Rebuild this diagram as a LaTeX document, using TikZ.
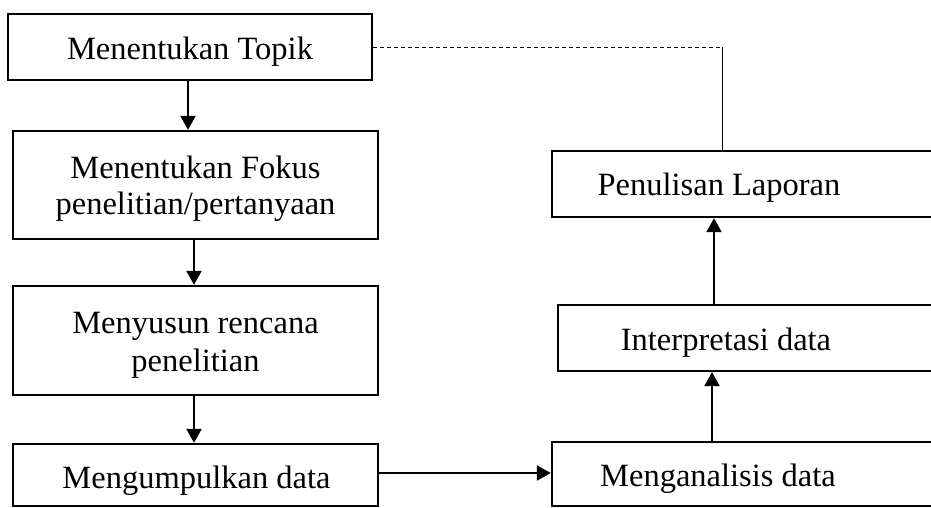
\documentclass[tikz,border=0pt]{standalone}
\usepackage{fontspec}
\setmainfont{Liberation Serif}
\usetikzlibrary{arrows.meta}
\begin{document}
\begin{tikzpicture}[x=1pt,y=-1pt,
  box/.style={draw=black,line width=2.4pt,rectangle,inner sep=0pt},
  txt/.style={anchor=base,inner sep=0pt,font=\fontsize{32.5}{37}\selectfont},
  arr/.style={line width=2.4pt,-{Triangle[length=14pt,width=15pt]}},
  thinline/.style={line width=0.9pt}]
\useasboundingbox (0,0) rectangle (931,508);
\clip (0,0) rectangle (931,508);
\fill[white] (0,0) rectangle (931,508);
% left column
\node[box,minimum width=364pt,minimum height=66pt] (b1) at (190,47) {};
\node[box,minimum width=365pt,minimum height=108pt] (b2) at (195.5,185) {};
\node[box,minimum width=365pt,minimum height=109pt] (b3) at (195.5,340.5) {};
\node[box,minimum width=365pt,minimum height=62pt] (b4) at (195.5,475) {};
% right column
\node[box,minimum width=388pt,minimum height=66pt] (r1) at (746,184) {};
\node[box,minimum width=382pt,minimum height=66pt] (r2) at (749,338) {};
\node[box,minimum width=388pt,minimum height=64pt] (r3) at (746,474) {};
% texts
\node[txt] (t1) at (190,60) {Menentukan Topik};
\node[txt] (t2a) at (195.5,178) {Menentukan Fokus};
\node[txt] (t2b) at (195.5,214) {penelitian/pertanyaan};
\node[txt] (t3a) at (195.5,333) {Menyusun rencana};
\node[txt] (t3b) at (195.5,371) {penelitian};
\node[txt] (t4) at (196.5,488) {Mengumpulkan data};
\node[txt] (u1) at (719,195) {Penulisan Laporan};
\node[txt] (u2) at (726,350) {Interpretasi data};
\node[txt] (u3) at (718,486) {Menganalisis data};
% connectors
\draw[arr] (b1.south -| 188,0) -- (b2.north -| 188,0);
\draw[arr] (b2.south -| 194,0) -- (b3.north -| 194,0);
\draw[arr] (b3.south -| 194,0) -- (b4.north -| 194,0);
\draw[arr] (b4.east |- 0,473) -- (r3.west |- 0,473);
\draw[arr] (r3.north -| 712,0) -- (r2.south -| 712,0);
\draw[arr] (r2.north -| 714,0) -- (r1.south -| 714,0);
\coordinate (corner) at (722,47);
\draw[thinline,dash pattern=on 4pt off 3pt] (b1.east) -- (corner);
\draw[thinline] (corner) -- (r1.north -| corner);
\end{tikzpicture}
\end{document}
